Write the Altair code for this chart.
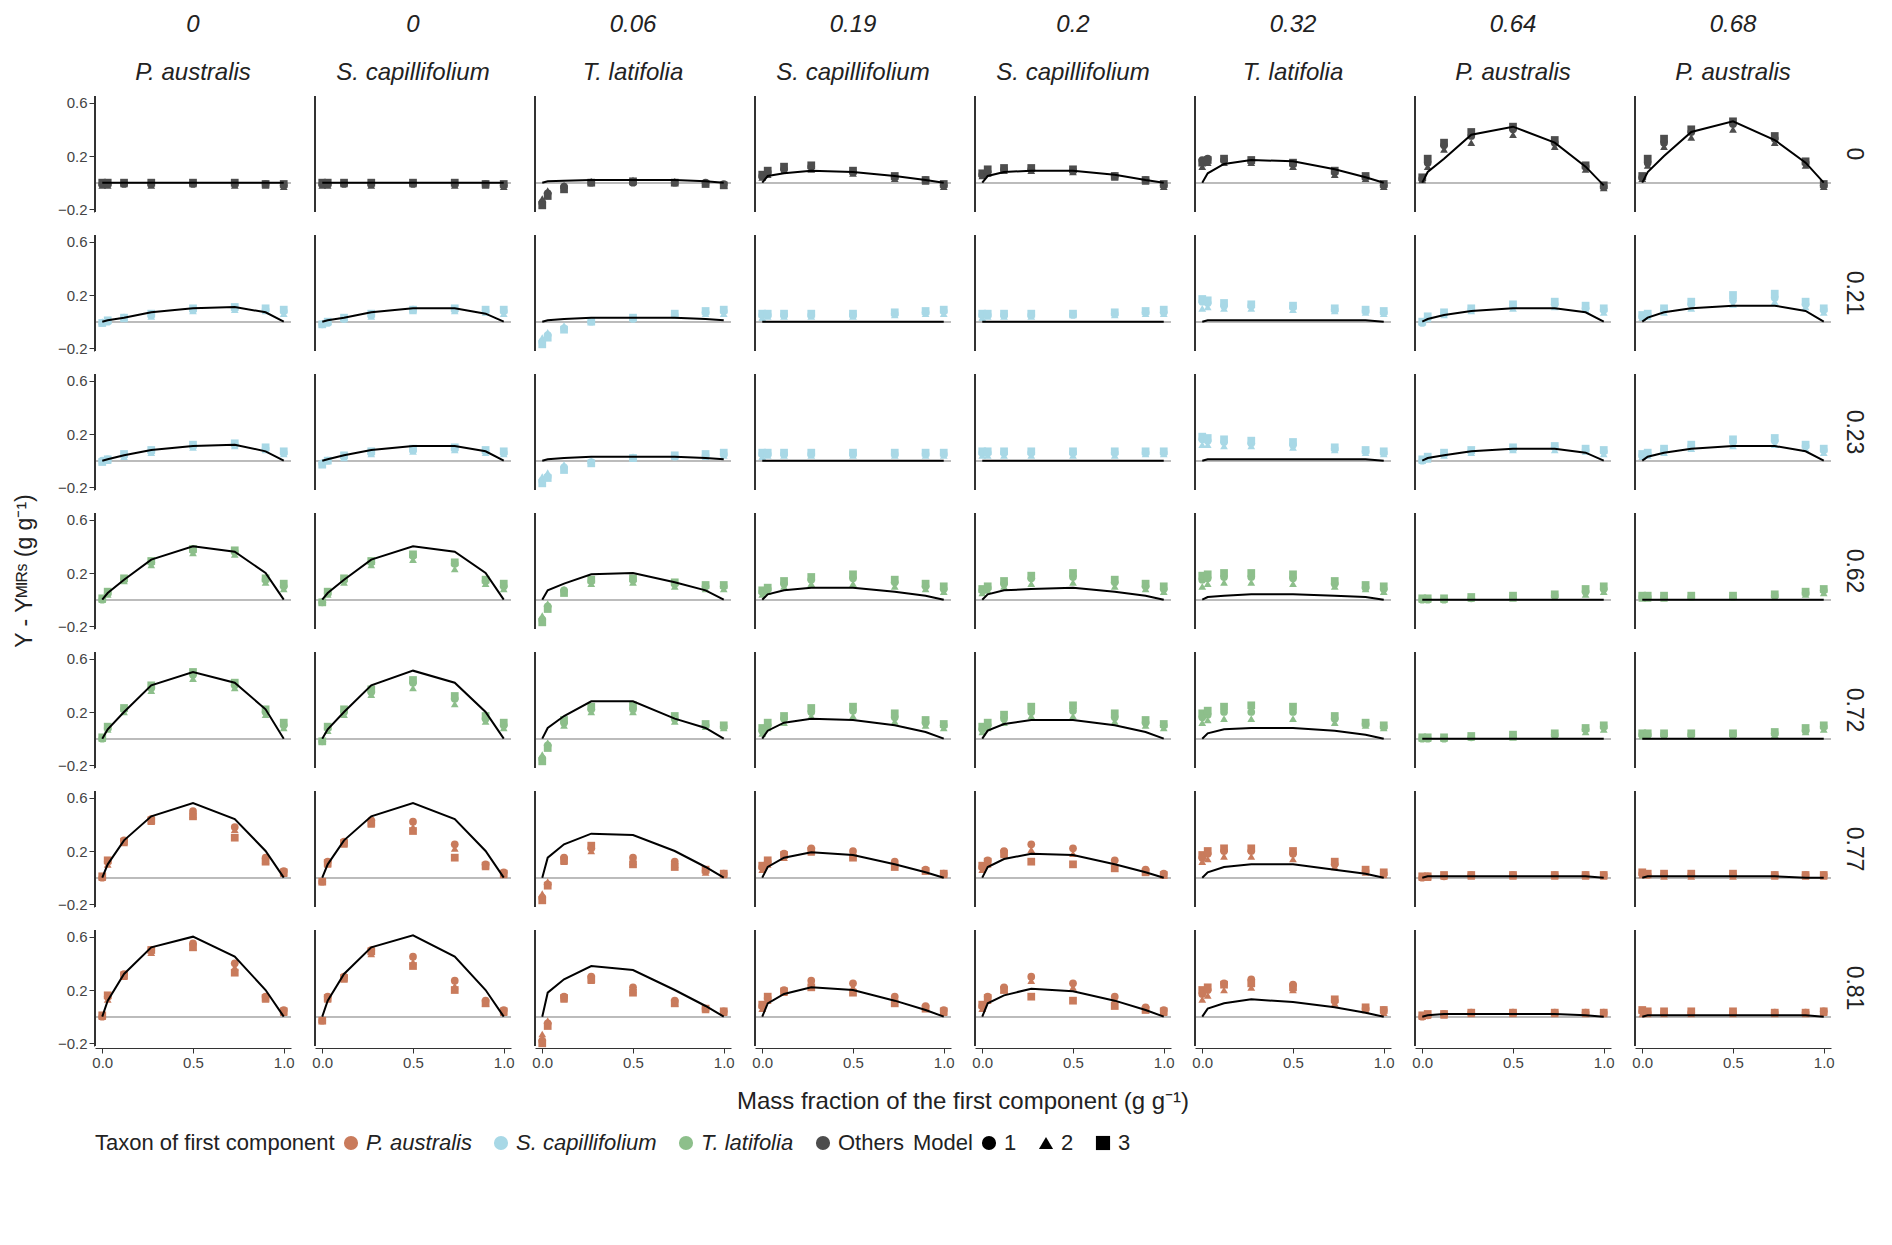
import altair as alt
import pandas as pd

XS = [0, 0.03, 0.12, 0.27, 0.5, 0.73, 0.9, 1.0]
Z = [0, 0, 0, 0, 0, 0, 0, 0]

ROW_LABELS = ["0", "0.21", "0.23", "0.62", "0.72", "0.77", "0.81"]
ROW_TAXON = ["Others", "S. capillifolium", "S. capillifolium", "T. latifolia",
             "T. latifolia", "P. australis", "P. australis"]
COL_VALUES = ["0", "0", "0.06", "0.19", "0.2", "0.32", "0.64", "0.68"]
COL_TAXA = ["P. australis", "S. capillifolium", "T. latifolia", "S. capillifolium",
            "S. capillifolium", "T. latifolia", "P. australis", "P. australis"]

TAXA = ["P. australis", "S. capillifolium", "T. latifolia", "Others"]
TAXA_COLORS = ["#c97b5c", "#a8d8e6", "#8dbf8b", "#4d4d4d"]

# row 0
LINE_0 = [Z, Z, [0, .01, .015, .02, .02, .02, .01, 0], [0, .05, .07, .09, .08, .05, .02, 0],
          [0, .05, .08, .09, .09, .06, .02, 0], [0, .07, .14, .17, .16, .1, .04, 0],
          [0, .08, .18, .36, .42, .3, .12, -.02], [0, .08, .2, .38, .46, .32, .15, 0]]
M1_0 = [[-.01, -.01, -.01, -.01, -.01, -.01, -.01, -.02], [-.01, -.01, -.01, -.01, -.01, -.01, -.01, -.02],
        [-.15, -.08, -.03, 0, 0, 0, 0, -.01], [.05, .08, .1, .12, .08, .04, .02, -.02],
        [.06, .08, .1, .1, .09, .05, .02, -.02], [.17, .18, .17, .16, .14, .08, .04, -.02],
        [.03, .15, .28, .35, .4, .3, .12, -.03], [.04, .15, .3, .38, .44, .33, .15, -.02]]
M2_0 = [[-.02, -.02, -.01, -.02, -.01, -.02, -.02, -.03], [-.02, -.02, -.01, -.02, -.01, -.02, -.02, -.03],
        [-.12, -.06, -.02, .01, .02, .01, 0, -.02], [.04, .06, .09, .1, .07, .03, .01, -.03],
        [.05, .07, .09, .09, .08, .04, .01, -.03], [.12, .15, .15, .15, .12, .06, .03, -.03],
        [.02, .12, .25, .3, .36, .27, .1, -.04], [.03, .13, .27, .34, .4, .3, .13, -.03]]
M3_0 = [[0, 0, 0, 0, 0, 0, -.01, -.01], [0, 0, 0, 0, 0, 0, -.01, -.01],
        [-.17, -.1, -.05, 0, .01, 0, -.01, -.02], [.06, .09, .12, .13, .09, .05, .02, -.01],
        [.07, .1, .11, .11, .1, .05, .02, -.01], [.15, .17, .18, .17, .15, .09, .05, -.01],
        [.04, .18, .3, .38, .42, .32, .13, -.02], [.05, .18, .33, .4, .46, .35, .16, -.01]]

# row 1
LINE_1 = [[0, .01, .03, .07, .1, .11, .07, 0], [0, .01, .03, .07, .1, .1, .06, 0],
          [0, .01, .02, .03, .03, .03, .02, .01], Z, Z, [0, .01, .01, .01, .01, .01, .01, 0],
          [0, .02, .05, .08, .1, .1, .07, 0], [0, .03, .07, .1, .12, .12, .08, 0]]
M1_1 = [[-.01, 0, .03, .05, .09, .1, .09, .08], [-.02, -.01, .02, .05, .09, .09, .08, .08],
        [-.15, -.1, -.05, 0, .02, .05, .07, .08], [.05, .05, .05, .05, .05, .06, .07, .08],
        [.05, .05, .05, .05, .05, .06, .07, .07], [.15, .14, .12, .12, .11, .09, .08, .07],
        [-.01, .03, .06, .09, .12, .13, .1, .09], [.04, .05, .09, .13, .16, .18, .13, .09]]
M2_1 = [[0, .01, .02, .04, .08, .09, .08, .06], [-.01, 0, .02, .04, .08, .08, .07, .06],
        [-.12, -.08, -.03, .01, .03, .05, .06, .06], [.03, .04, .04, .04, .04, .05, .06, .06],
        [.03, .04, .04, .04, .05, .05, .06, .06], [.1, .11, .1, .1, .09, .08, .07, .06],
        [0, .02, .05, .08, .1, .11, .09, .07], [.03, .04, .07, .1, .13, .15, .11, .07]]
M3_1 = [[-.01, .01, .03, .06, .1, .11, .1, .09], [-.02, 0, .03, .06, .09, .1, .09, .09],
        [-.17, -.12, -.06, 0, .03, .06, .08, .09], [.06, .06, .06, .06, .06, .07, .08, .09],
        [.06, .06, .06, .06, .06, .07, .08, .09], [.17, .16, .14, .13, .12, .1, .09, .08],
        [0, .04, .07, .1, .13, .15, .12, .1], [.05, .06, .1, .15, .2, .21, .15, .1]]

# row 2
LINE_2 = [[0, .01, .04, .08, .11, .12, .07, 0], [0, .01, .04, .08, .11, .11, .07, 0],
          [0, .01, .02, .03, .03, .03, .02, .01], Z, Z, [0, .01, .01, .01, .01, .01, .01, 0],
          [0, .02, .04, .07, .09, .09, .06, 0], [0, .03, .06, .09, .11, .11, .07, 0]]
M1_2 = [[0, .01, .04, .07, .11, .12, .09, .06], [-.02, 0, .03, .06, .08, .09, .07, .06],
        [-.15, -.12, -.05, -.01, .02, .03, .04, .05], [.05, .05, .05, .05, .05, .05, .05, .05],
        [.06, .06, .06, .06, .06, .06, .06, .06], [.16, .15, .14, .13, .12, .09, .07, .06],
        [0, .02, .05, .07, .09, .1, .08, .07], [.04, .05, .08, .11, .14, .15, .11, .08]]
M2_2 = [[0, 0, .03, .06, .1, .11, .08, .05], [-.01, 0, .02, .05, .07, .08, .06, .05],
        [-.12, -.09, -.03, 0, .03, .03, .03, .04], [.03, .04, .04, .04, .04, .04, .04, .04],
        [.04, .04, .04, .04, .04, .04, .05, .05], [.12, .12, .11, .11, .1, .08, .06, .05],
        [0, .01, .04, .06, .08, .08, .07, .05], [.03, .04, .06, .09, .11, .12, .09, .06]]
M3_2 = [[-.01, .01, .05, .08, .12, .13, .1, .07], [-.03, 0, .04, .07, .09, .1, .08, .07],
        [-.17, -.13, -.07, -.02, .02, .04, .05, .06], [.06, .06, .06, .06, .06, .06, .06, .06],
        [.07, .07, .07, .07, .07, .07, .07, .07], [.18, .17, .16, .15, .14, .1, .08, .07],
        [.01, .03, .06, .08, .1, .11, .09, .08], [.05, .06, .09, .12, .16, .17, .12, .09]]

# row 3
LINE_3 = [[0, .05, .15, .3, .4, .36, .2, 0], [0, .05, .15, .3, .4, .36, .2, 0],
          [0, .07, .12, .19, .2, .13, .07, 0], [0, .04, .07, .09, .09, .06, .03, 0],
          [0, .04, .07, .08, .09, .06, .03, 0], [0, .02, .03, .04, .04, .03, .02, 0], Z, Z]
M1_3 = [[0, .05, .15, .28, .37, .36, .15, .1], [-.02, .05, .15, .28, .33, .27, .14, .1],
        [-.15, -.05, .07, .14, .15, .12, .1, .1], [.06, .08, .12, .15, .16, .13, .1, .08],
        [.07, .09, .12, .16, .17, .13, .1, .08], [.15, .16, .17, .17, .16, .12, .09, .08],
        [0, 0, 0, .01, .02, .03, .06, .08], [.02, .02, .02, .02, .02, .03, .05, .07]]
M2_3 = [[0, .04, .14, .26, .35, .34, .13, .08], [-.01, .04, .13, .26, .3, .23, .12, .08],
        [-.12, -.03, .08, .12, .13, .1, .08, .08], [.04, .06, .1, .12, .12, .1, .08, .06],
        [.05, .07, .1, .12, .13, .1, .08, .06], [.1, .12, .13, .13, .12, .1, .08, .06],
        [0, 0, 0, .01, .01, .02, .04, .06], [.01, .01, .01, .02, .02, .02, .04, .05]]
M3_3 = [[.01, .06, .16, .29, .38, .37, .16, .12], [-.02, .06, .16, .29, .34, .28, .15, .12],
        [-.17, -.07, .05, .15, .16, .13, .11, .11], [.07, .09, .14, .17, .19, .15, .12, .1],
        [.08, .1, .14, .18, .2, .15, .12, .1], [.18, .19, .2, .2, .19, .14, .11, .1],
        [.01, .01, .01, .02, .03, .04, .08, .1], [.03, .03, .03, .03, .03, .04, .06, .08]]

# row 4
LINE_4 = [[0, .07, .2, .4, .5, .42, .22, 0], [0, .07, .2, .4, .51, .42, .2, 0],
          [0, .08, .17, .28, .28, .15, .08, 0], [0, .06, .12, .15, .14, .1, .05, 0],
          [0, .06, .11, .14, .14, .1, .05, 0], [0, .04, .07, .08, .08, .06, .03, 0], Z, Z]
M1_4 = [[0, .08, .22, .38, .48, .4, .2, .1], [-.02, .08, .2, .35, .42, .3, .15, .1],
        [-.15, -.05, .12, .22, .22, .15, .1, .09], [.06, .1, .15, .2, .21, .16, .12, .1],
        [.07, .1, .15, .2, .21, .16, .12, .1], [.16, .18, .2, .2, .2, .15, .11, .09],
        [0, 0, 0, .01, .02, .03, .07, .09], [.03, .03, .03, .03, .03, .04, .06, .09]]
M2_4 = [[0, .07, .2, .36, .45, .38, .18, .08], [-.01, .06, .18, .33, .38, .26, .13, .08],
        [-.12, -.03, .1, .2, .2, .13, .09, .08], [.04, .08, .12, .17, .17, .13, .1, .08],
        [.05, .08, .12, .17, .17, .13, .1, .08], [.12, .14, .15, .15, .15, .12, .1, .08],
        [0, 0, 0, .01, .01, .02, .05, .07], [.02, .02, .02, .02, .02, .03, .05, .07]]
M3_4 = [[.01, .09, .23, .4, .5, .42, .22, .12], [-.02, .09, .22, .37, .44, .32, .17, .12],
        [-.17, -.07, .14, .24, .25, .17, .11, .1], [.08, .12, .17, .23, .24, .19, .14, .11],
        [.09, .12, .18, .24, .25, .19, .14, .11], [.19, .21, .24, .25, .24, .17, .12, .1],
        [.01, .01, .01, .02, .03, .04, .08, .1], [.04, .04, .04, .04, .04, .05, .08, .1]]

# row 5
LINE_5 = [[0, .1, .28, .46, .56, .44, .2, 0], [0, .1, .28, .46, .56, .44, .2, 0],
          [0, .15, .25, .33, .32, .2, .08, 0], [0, .08, .15, .19, .17, .1, .04, 0],
          [0, .08, .14, .18, .17, .1, .04, 0], [0, .04, .08, .1, .1, .06, .03, 0],
          [0, .01, .01, .01, .01, .01, .01, 0], [0, .01, .01, .01, .01, .01, 0, 0]]
M1_5 = [[0, .12, .28, .44, .5, .38, .15, .05], [-.03, .12, .27, .43, .42, .25, .1, .04],
        [-.15, -.05, .15, .22, .15, .12, .05, .03], [.08, .12, .18, .22, .2, .12, .06, .03],
        [.08, .13, .2, .25, .22, .13, .06, .03], [.15, .18, .2, .2, .18, .1, .05, .03],
        [0, .01, .01, .02, .02, .02, .02, .02], [.03, .02, .02, .02, .02, .02, .02, .02]]
M2_5 = [[0, .1, .26, .42, .47, .36, .13, .03], [-.02, .1, .25, .4, .38, .22, .08, .02],
        [-.12, -.03, .12, .2, .12, .1, .04, .02], [.06, .1, .15, .19, .17, .1, .05, .02],
        [.06, .1, .17, .21, .18, .11, .05, .02], [.12, .14, .16, .16, .14, .08, .04, .02],
        [0, 0, .01, .01, .01, .01, .01, .01], [.02, .02, .01, .01, .01, .01, .01, .01]]
M3_5 = [[.01, .13, .27, .43, .46, .3, .12, .04], [-.03, .11, .26, .41, .35, .15, .09, .03],
        [-.17, -.06, .13, .24, .1, .08, .06, .03], [.09, .13, .17, .2, .15, .08, .05, .03],
        [.09, .12, .18, .12, .1, .07, .04, .02], [.17, .2, .22, .22, .2, .12, .06, .04],
        [.01, .01, .02, .02, .02, .02, .02, .02], [.04, .03, .03, .03, .03, .02, .02, .02]]

# row 6
LINE_6 = [[0, .12, .32, .52, .6, .45, .2, 0], [0, .12, .32, .52, .61, .45, .2, 0],
          [0, .18, .28, .38, .35, .2, .08, 0], [0, .1, .17, .22, .2, .12, .05, 0],
          [0, .1, .16, .21, .19, .12, .05, 0], [0, .06, .1, .13, .11, .07, .03, 0],
          [0, .01, .02, .02, .02, .02, .01, 0], [0, .01, .01, .01, .01, .01, .01, 0]]
M1_6 = [[0, .15, .32, .5, .55, .4, .15, .05], [-.03, .15, .3, .5, .45, .27, .12, .05],
        [-.18, -.05, .15, .3, .22, .12, .06, .04], [.08, .14, .2, .27, .25, .15, .08, .05],
        [.08, .15, .22, .3, .25, .15, .07, .05], [.17, .2, .25, .28, .24, .12, .06, .05],
        [0, .01, .02, .03, .03, .03, .03, .03], [.04, .03, .03, .03, .03, .03, .03, .04]]
M2_6 = [[0, .13, .3, .48, .52, .37, .13, .03], [-.02, .13, .28, .47, .41, .23, .1, .03],
        [-.13, -.03, .13, .27, .2, .1, .05, .03], [.06, .12, .18, .24, .22, .13, .07, .03],
        [.06, .12, .2, .27, .22, .13, .06, .03], [.13, .16, .2, .22, .2, .1, .05, .03],
        [0, .01, .01, .02, .02, .02, .02, .02], [.02, .02, .02, .02, .02, .02, .02, .03]]
M3_6 = [[.01, .16, .31, .5, .52, .33, .14, .04], [-.03, .14, .29, .49, .38, .2, .1, .04],
        [-.2, -.07, .14, .28, .18, .1, .06, .04], [.09, .15, .19, .22, .18, .1, .06, .04],
        [.09, .14, .2, .15, .12, .08, .05, .04], [.2, .22, .24, .25, .22, .13, .07, .05],
        [.01, .02, .02, .03, .03, .03, .03, .03], [.05, .04, .04, .04, .04, .03, .03, .04]]

LINES = [LINE_0, LINE_1, LINE_2, LINE_3, LINE_4, LINE_5, LINE_6]
MODELS = {
    "1": [M1_0, M1_1, M1_2, M1_3, M1_4, M1_5, M1_6],
    "2": [M2_0, M2_1, M2_2, M2_3, M2_4, M2_5, M2_6],
    "3": [M3_0, M3_1, M3_2, M3_3, M3_4, M3_5, M3_6],
}

records = []
for r in range(7):
    for c in range(8):
        for i, x in enumerate(XS):
            records.append({"row": r, "col": c, "x": x, "y": LINES[r][c][i],
                            "kind": "line", "model": None, "taxon": None})
            for m, arrs in MODELS.items():
                records.append({"row": r, "col": c, "x": x, "y": arrs[r][c][i],
                                "kind": "point", "model": m, "taxon": ROW_TAXON[r]})
df = pd.DataFrame(records)

W, H = 196, 116
FONT = "Liberation Sans"

xenc = alt.X("x:Q", scale=alt.Scale(domain=[-0.04, 1.04], nice=False),
             axis=alt.Axis(values=[0, 0.5, 1], format=".1f", grid=False, tickColor="#333",
                           domainColor="#333"),
             title=None)
yenc = alt.Y("y:Q", scale=alt.Scale(domain=[-0.22, 0.65], nice=False),
             axis=alt.Axis(values=[-0.2, 0, 0.2, 0.4, 0.6], format=".1f", grid=False,
                           labelOverlap=False, tickColor="#333", domainColor="#333"),
             title=None)

zero = alt.Chart().mark_rule(color="#bbbbbb", strokeWidth=1.2).encode(
    y=alt.datum(0), x=alt.value(0), x2=alt.value(W))
left = alt.Chart().mark_rule(color="#333", strokeWidth=1).encode(
    x=alt.value(0), y=alt.value(0), y2=alt.value(H))
pts = alt.Chart().mark_point(filled=True, size=60, opacity=1).encode(
    x=xenc, y=yenc,
    color=alt.Color("taxon:N", scale=alt.Scale(domain=TAXA, range=TAXA_COLORS),
                    title="Taxon of first component",
                    legend=alt.Legend(titleLimit=0,
                                      labelFontStyle={"expr": "datum.label == 'Others' ? 'normal' : 'italic'"})),
    shape=alt.Shape("model:N", scale=alt.Scale(domain=["1", "2", "3"],
                                              range=["circle", "triangle-up", "square"]),
                    title="Model", legend=alt.Legend(titleLimit=0)),
).transform_filter("datum.kind == 'point'")
line = alt.Chart().mark_line(color="black", strokeWidth=2).encode(
    x=xenc, y=yenc, order="x:Q"
).transform_filter("datum.kind == 'line'")

row_expr = "[" + ",".join(f"'{v}'" for v in ROW_LABELS) + "][datum.value]"
col_expr = "[" + ",".join(f"['{v}','{t}']" for v, t in zip(COL_VALUES, COL_TAXA)) + "][datum.value]"

chart = alt.layer(zero, left, pts, line).properties(width=W, height=H).facet(
    data=df,
    row=alt.Row("row:O", title="Y - Yᴹᴵᴿˢ (g g⁻¹)",
                header=alt.Header(labelExpr=row_expr, labelOrient="right", labelAngle=90,
                                  labelFontSize=23, labelFont=FONT, labelColor="#222",
                                  titleOrient="left", titleFont=FONT, titleFontSize=23,
                                  titleFontWeight="normal", titleColor="#222")),
    column=alt.Column("col:O", title="Mass fraction of the first component (g g⁻¹)",
                      header=alt.Header(labelExpr=col_expr, labelOrient="top", labelFontSize=24,
                                        labelFont=FONT, labelFontStyle="italic",
                                        labelLineHeight=48, labelColor="#222",
                                        titleOrient="bottom", titleFont=FONT, titleFontSize=24,
                                        titleFontWeight="normal", titleColor="#222")),
    spacing={"row": 20, "column": 22},
).configure_view(stroke=None).configure_axis(
    labelFont=FONT, labelFontSize=15, labelColor="#444"
).configure_legend(
    orient="bottom", direction="horizontal", titleOrient="left", labelFont=FONT,
    titleFont=FONT, labelFontSize=22, titleFontSize=22, titleFontWeight="normal",
    symbolSize=200, titleColor="#222", labelColor="#222", columnPadding=18
)

chart.save("out.html", embed_options={"renderer": "svg", "actions": False})
